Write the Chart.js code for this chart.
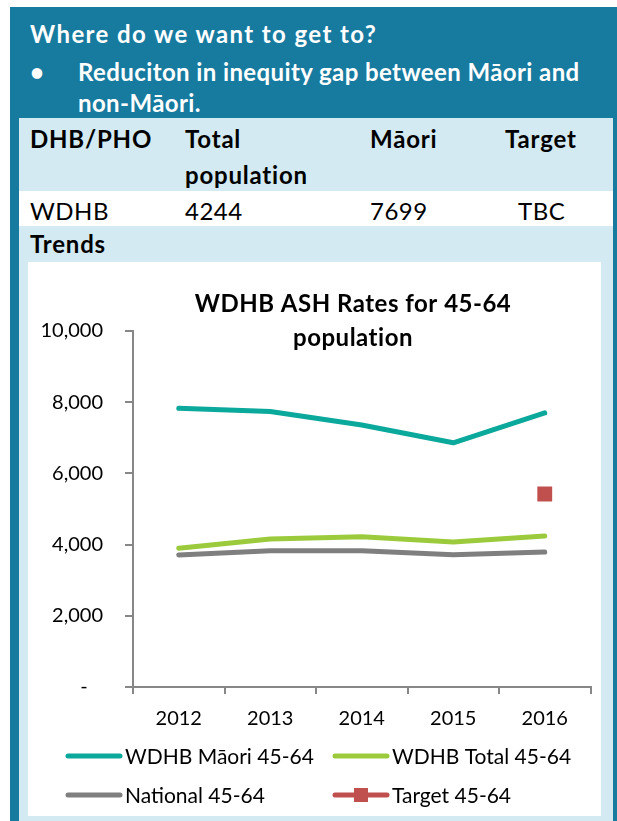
<!DOCTYPE html>
<html>
<head>
<meta charset="utf-8">
<script src="https://cdn.jsdelivr.net/npm/chart.js@4.4.1/dist/chart.umd.min.js"></script>
<style>
    body { margin: 0; background: #ffffff; width: 617px; height: 821px; position: relative; overflow: hidden; font-family: Lato, "Open Sans", sans-serif; }
    .frame { position: absolute; left: 10px; top: 7px; width: 607px; height: 814px; background: #177a9f; }
    .inner { position: absolute; left: 19px; top: 118px; width: 594px; height: 703px; background: #d3eaf2; }
    .row-white { position: absolute; left: 19px; top: 191px; width: 594px; height: 35px; background: #ffffff; }
    .txt { position: absolute; white-space: nowrap; line-height: 1; font-variant-ligatures: none; }
    .head { color: #ffffff; font-weight: bold; font-size: 24px; letter-spacing: 0.4px; }
    .th { color: #000000; font-weight: bold; font-size: 24px; letter-spacing: 0.8px; }
    .td { color: #000000; font-size: 24px; letter-spacing: 0.5px; }
    .chart-box { position: absolute; left: 28px; top: 262px; width: 573px; height: 554px; background: #ffffff; }
</style>
</head>
<body>
<div class="frame"></div>
<div class="inner"></div>
<div class="row-white"></div>

<div class="txt head" style="left:30px; top:22px; letter-spacing:1.4px;">Where do we want to get to?</div>
<div class="txt head" style="left:30px; top:60px;">•</div>
<div class="txt head" style="left:78px; top:60px;">Reduciton in inequity gap between Māori and</div>
<div class="txt head" style="left:78px; top:91px;">non-Māori.</div>

<div class="txt th" style="left:30px; top:127px;">DHB/PHO</div>
<div class="txt th" style="left:185px; top:127px;">Total</div>
<div class="txt th" style="left:185px; top:163px;">population</div>
<div class="txt th" style="left:370px; top:127px;">Māori</div>
<div class="txt th" style="left:505px; top:127px;">Target</div>

<div class="txt td" style="left:30px; top:199px;">WDHB</div>
<div class="txt td" style="left:185px; top:199px;">4244</div>
<div class="txt td" style="left:370px; top:199px;">7699</div>
<div class="txt td" style="left:518px; top:199px;">TBC</div>

<div class="txt th" style="left:30px; top:232px;">Trends</div>

<div class="chart-box"><canvas id="ash-chart" width="573" height="554"></canvas></div>

<script>
// ASH rates chart, 45-64 population

// 数据
const years = ['2012', '2013', '2014', '2015', '2016'];
const maoriRates = [7830, 7740, 7360, 6860, 7699];
const totalRates = [3895, 4157, 4222, 4073, 4244];
const nationalRates = [3708, 3830, 3830, 3716, 3792];
const targetRates = [null, null, null, null, 5420];

const seriesNames = ['WDHB Māori 45-64', 'WDHB Total 45-64', 'National 45-64', 'Target 45-64'];
const titleLines = ['WDHB ASH Rates for 45-64', 'population'];
const yMin = 0;
const yMax = 10000;
const yStep = 2000;

// colours
const COLORS = ['#0ba89c', '#9bcb3c', '#7f7f7f', '#c0504d'];
const AXIS_COLOR = '#878787';
const FONT = 'Lato, "Open Sans", sans-serif';

// title drawn over the plot area, like Excel does
const titlePlugin = {
    id: 'overlayTitle',
    afterDraw(chart) {
        const ctx = chart.ctx;
        ctx.save();
        ctx.fillStyle = '#000000';
        ctx.font = 'bold 24px ' + FONT;
        ctx.letterSpacing = '0.5px';
        ctx.textAlign = 'center';
        ctx.textBaseline = 'middle';
        titleLines.forEach((line, i) => {
            ctx.fillText(line, 325, 42 + i * 34);
        });
        ctx.restore();
    }
};

// legend in two columns
const legendPlugin = {
    id: 'gridLegend',
    afterDraw(chart) {
        const ctx = chart.ctx;
        const colX = [38, 305];
        const rowY = [494, 533];
        ctx.save();
        ctx.font = '21px ' + FONT;
        ctx.textBaseline = 'middle';
        ctx.textAlign = 'left';
        chart.data.datasets.forEach((ds, i) => {
            const x = colX[i % 2];
            const y = rowY[Math.floor(i / 2)];
            ctx.strokeStyle = COLORS[i];
            ctx.lineWidth = 5;
            ctx.lineCap = 'round';
            ctx.beginPath();
            ctx.moveTo(x + 2, y);
            ctx.lineTo(x + 54, y);
            ctx.stroke();
            if (ds.pointStyle === 'rect') {
                ctx.fillStyle = COLORS[i];
                ctx.fillRect(x + 21, y - 7, 14, 14);
            }
            ctx.fillStyle = '#000000';
            ctx.fillText(ds.label, x + 59, y + 1);
        });
        ctx.restore();
    }
};

function lineSet(label, data, color) {
    return {
        label: label,
        data: data,
        borderColor: color,
        backgroundColor: color,
        borderWidth: 5,
        borderCapStyle: 'round',
        borderJoinStyle: 'round',
        pointRadius: 0,
        tension: 0
    };
}

function formatTick(value) {
    if (value === 0) return '-   ';
    return value.toLocaleString('en-US');
}

const ctx = document.getElementById('ash-chart').getContext('2d');
const ashChart = new Chart(ctx, {
    type: 'line',
    data: {
        labels: years,
        datasets: [
            lineSet(seriesNames[0], maoriRates, COLORS[0]),
            lineSet(seriesNames[1], totalRates, COLORS[1]),
            lineSet(seriesNames[2], nationalRates, COLORS[2]),
            {
                label: seriesNames[3],
                data: targetRates,
                borderColor: COLORS[3],
                backgroundColor: COLORS[3],
                showLine: false,
                pointStyle: 'rect',
                pointRadius: 10.5,
                pointBorderWidth: 0
            }
        ]
    },
    options: {
        responsive: false,
        animation: false,
        devicePixelRatio: 1,
        layout: {
            padding: { top: 69, right: 1, left: 0, bottom: 0 }
        },
        plugins: {
            legend: { display: false },
            title: { display: false },
            tooltip: { enabled: false }
        },
        scales: {
            x: {
                offset: true,
                grid: {
                    offset: true,
                    drawOnChartArea: false,
                    drawTicks: true,
                    tickLength: 7,
                    color: AXIS_COLOR,
                    lineWidth: 2
                },
                border: { color: AXIS_COLOR, width: 2 },
                ticks: {
                    color: '#000000',
                    padding: 13,
                    font: { family: FONT, size: 20 },
                    maxRotation: 0
                },
                afterFit(scale) {
                    scale.height = 129;
                }
            },
            y: {
                min: yMin,
                max: yMax,
                grid: {
                    drawOnChartArea: false,
                    drawTicks: true,
                    tickLength: 8,
                    color: AXIS_COLOR,
                    lineWidth: 2
                },
                border: { color: AXIS_COLOR, width: 2 },
                ticks: {
                    stepSize: yStep,
                    color: '#000000',
                    padding: 22,
                    font: { family: FONT, size: 20 },
                    callback: formatTick
                },
                afterFit(scale) {
                    scale.width = 105;
                }
            }
        }
    },
    plugins: [titlePlugin, legendPlugin]
});
</script>
</body>
</html>
